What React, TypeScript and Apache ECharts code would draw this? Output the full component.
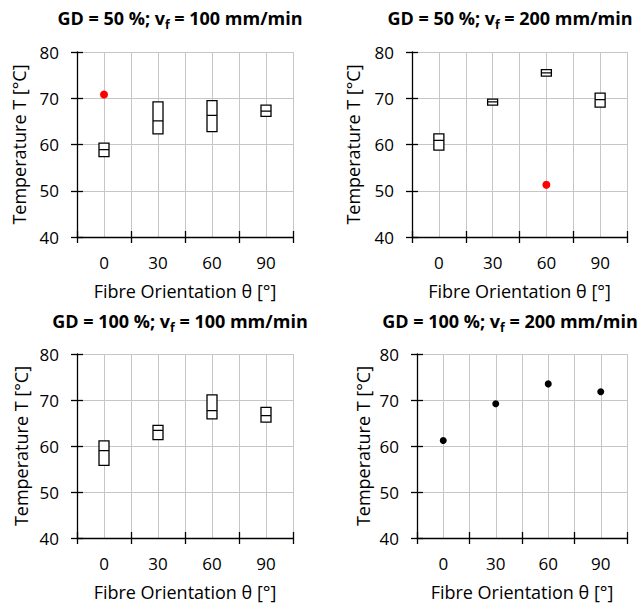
import React, { useEffect, useRef } from "react";
import * as echarts from "echarts";

const categories = ["0", "30", "60", "90"];
const yMin = 40;
const yMax = 80;
const yStep = 10;

// Panel 1: GD = 50 %; vf = 100 mm/min
const p1Low = [57.4, 62.3, 62.8, 66.1];
const p1Mid = [58.9, 65.1, 66.3, 67.2];
const p1High = [60.3, 69.2, 69.5, 68.5];
const p1Outliers: [string, number][] = [["0", 70.8]];

// Panel 2: GD = 50 %; vf = 200 mm/min
const p2Low = [58.8, 68.5, 74.8, 68.1];
const p2Mid = [60.9, 69.2, 75.5, 69.7];
const p2High = [62.3, 69.8, 76.2, 71.1];
const p2Outliers: [string, number][] = [["60", 51.3]];

// Panel 3: GD = 100 %; vf = 100 mm/min
const p3Low = [55.8, 61.4, 65.9, 65.2];
const p3Mid = [59.0, 63.4, 67.7, 66.6];
const p3High = [61.1, 64.5, 71.1, 68.4];

// Panel 4: GD = 100 %; vf = 200 mm/min
const p4Values = [61.2, 69.2, 73.5, 71.8];

const titles = [
  ["GD = 50 %; v", "f", " = 100 mm/min"],
  ["GD = 50 %; v", "f", " = 200 mm/min"],
  ["GD = 100 %; v", "f", " = 100 mm/min"],
  ["GD = 100 %; v", "f", " = 200 mm/min"],
];
const xName = "Fibre Orientation θ [°]";
const yName = "Temperature T [°C]";

const FONT = "Open Sans";

export default function App() {
  const ref = useRef<HTMLDivElement>(null);
  useEffect(() => {
    document.body.style.margin = "0";
    const chart = echarts.init(ref.current!, null, { renderer: "svg" });

    const grids = [
      { left: 77, top: 52, width: 216, height: 185 },
      { left: 412, top: 52, width: 215, height: 185 },
      { left: 77, top: 354, width: 216, height: 184 },
      { left: 417, top: 354, width: 210, height: 184 },
    ];
    const titlePos = [
      [180, 18],
      [510, 18],
      [180, 321],
      [510, 321],
    ];
    const yNameGap = [49, 50, 47, 45];

    const xAxis: any[] = [];
    const yAxis: any[] = [];
    grids.forEach((_, k) => {
      xAxis.push({
        type: "category",
        gridIndex: k,
        position: "bottom",
        data: categories,
        boundaryGap: true,
        axisLine: { onZero: false, lineStyle: { color: "#000", width: 1.3 } },
        axisTick: { show: true, inside: false, length: 6, lineStyle: { color: "#000", width: 1.3 } },
        axisLabel: { color: "#000", fontSize: 17, fontFamily: FONT, margin: 17 },
        splitLine: { show: false },
        name: xName,
        nameLocation: "middle",
        nameGap: 45,
        nameTextStyle: { color: "#000", fontSize: 18, fontFamily: FONT },
      });
      xAxis.push({
        type: "category",
        gridIndex: k,
        position: "bottom",
        data: categories,
        boundaryGap: true,
        axisLine: { show: false, onZero: false },
        axisTick: { show: true, inside: true, length: 6, lineStyle: { color: "#000", width: 1.3 } },
        axisLabel: { show: false },
        splitLine: { show: false },
      });
      xAxis.push({
        type: "value",
        gridIndex: k,
        position: "bottom",
        min: -15,
        max: 105,
        interval: 15,
        axisLine: { show: false, onZero: false },
        axisTick: { show: false },
        axisLabel: { show: false },
        splitLine: { show: true, lineStyle: { color: "#c6c6c6", width: 1 } },
      });
      yAxis.push({
        type: "value",
        gridIndex: k,
        position: "left",
        min: yMin,
        max: yMax,
        interval: yStep,
        axisLine: { show: true, onZero: false, lineStyle: { color: "#000", width: 1.3 } },
        axisTick: { show: true, inside: false, length: 6, lineStyle: { color: "#000", width: 1.3 } },
        axisLabel: { color: "#000", fontSize: 17, fontFamily: FONT, margin: 18 },
        splitLine: { show: true, lineStyle: { color: "#c6c6c6", width: 1 } },
        name: yName,
        nameLocation: "middle",
        nameGap: yNameGap[k],
        nameTextStyle: { color: "#000", fontSize: 18, fontFamily: FONT },
      });
      yAxis.push({
        type: "value",
        gridIndex: k,
        position: "left",
        min: yMin,
        max: yMax,
        interval: yStep,
        axisLine: { show: false, onZero: false },
        axisTick: { show: true, inside: true, length: 6, lineStyle: { color: "#000", width: 1.3 } },
        axisLabel: { show: false },
        splitLine: { show: false },
      });
    });

    const boxData = (lo: number[], mid: number[], hi: number[]) =>
      lo.map((l, i) => [l, l, mid[i], hi[i], hi[i]]);

    const boxSeries = (k: number, data: number[][]) => ({
      type: "boxplot",
      xAxisIndex: k * 3,
      yAxisIndex: k * 2,
      data,
      boxWidth: [10, 10],
      itemStyle: { color: "#fff", borderColor: "#000", borderWidth: 1.3 },
      silent: true,
      z: 5,
    });
    const dotSeries = (k: number, data: any[], color: string, size: number) => ({
      type: "scatter",
      xAxisIndex: k * 3,
      yAxisIndex: k * 2,
      data,
      symbolSize: size,
      itemStyle: { color, opacity: 1 },
      silent: true,
      z: 6,
    });

    const graphic = titles.map((t, k) => ({
      type: "text",
      x: titlePos[k][0],
      y: titlePos[k][1],
      style: {
        text: `{b|${t[0]}}{s|${t[1]}}{b|${t[2]}}`,
        textAlign: "center",
        textVerticalAlign: "middle",
        rich: {
          b: { fontSize: 18, fontWeight: "bold", fontFamily: FONT, fill: "#000", lineHeight: 24, verticalAlign: "middle" },
          s: { fontSize: 12, fontWeight: "bold", fontFamily: FONT, fill: "#000", lineHeight: 24, verticalAlign: "bottom", padding: [9, 0, 0, 0] },
        },
      },
    }));

    chart.setOption({
      animation: false,
      backgroundColor: "#fff",
      grid: grids,
      xAxis,
      yAxis,
      graphic,
      series: [
        boxSeries(0, boxData(p1Low, p1Mid, p1High)),
        dotSeries(0, p1Outliers, "#ff0000", 8),
        boxSeries(1, boxData(p2Low, p2Mid, p2High)),
        dotSeries(1, p2Outliers, "#ff0000", 8),
        boxSeries(2, boxData(p3Low, p3Mid, p3High)),
        dotSeries(3, p4Values, "#000", 7),
      ],
    });
    return () => chart.dispose();
  }, []);
  return <div ref={ref} style={{ width: 644, height: 604 }} />;
}
